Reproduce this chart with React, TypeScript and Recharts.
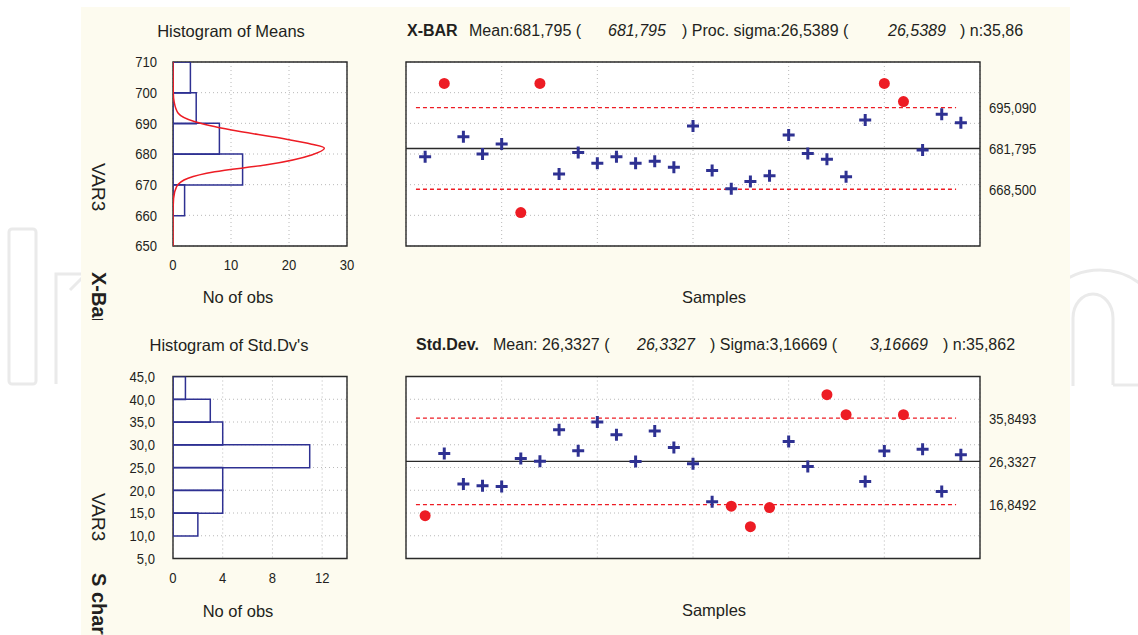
import React from 'react'
import {
  ComposedChart,
  ScatterChart,
  Bar,
  Line,
  Scatter,
  XAxis,
  YAxis,
  CartesianGrid,
  ReferenceLine,
  ReferenceArea,
} from 'recharts'

const FONT = "'Liberation Sans', Arial, Helvetica, sans-serif"
const INK = '#231f20'
const NAVY = '#2e3192'
const RED = '#ed1c24'
const BORDER = '#2a2a2a'
const GRID = '#b8b8b8'
const CREAM = '#fdfbef'

// ---- X-bar chart ----
const meanSamples = [
  679.1, 703.0, 685.6, 680.0, 683.3, 660.9, 703.0, 673.5, 680.5, 677.0,
  679.1, 677.0, 677.6, 675.7, 689.1, 674.6, 668.7, 671.0, 672.9, 686.2,
  680.2, 678.3, 672.6, 691.1, 703.0, 697.1, 681.3, 693.0, 690.2,
]
const meanLcl = 668.5
const meanCenter = 681.795
const meanUcl = 695.09
const meanLimitLabels = ['668,500', '681,795', '695,090']

// histogram of means (bin mid points, counts)
const meanBins = [655, 665, 675, 685, 695, 705]
const meanCounts = [0, 2, 12, 8, 4, 3]
// fitted curve
const curveVar = [650, 660, 665.5, 669.3, 672.1, 674.2, 676.4, 679.7, 681.9, 683.2, 685.1, 687.8, 690.5, 693.3, 697.0, 700, 710]
const curveObs = [0, 0, 0.1, 0.6, 2.6, 7.2, 15.9, 23.9, 26.1, 23.9, 18.7, 10.1, 3.8, 0.9, 0.2, 0.05, 0]

// ---- S chart ----
const sdSamples = [
  14.4, 28.1, 21.4, 21.0, 20.8, 27.0, 26.4, 33.3, 28.7, 35.0,
  32.2, 26.3, 33.0, 29.4, 25.8, 17.5, 16.5, 12.0, 16.2, 30.7,
  25.2, 41.0, 36.6, 21.9, 28.6, 36.6, 29.0, 19.7, 27.8,
]
const sdLcl = 16.8492
const sdCenter = 26.3327
const sdUcl = 35.8493
const sdLimitLabels = ['16,8492', '26,3327', '35,8493']

const sdBins = [7.5, 12.5, 17.5, 22.5, 27.5, 32.5, 37.5, 42.5]
const sdCounts = [0, 2, 4, 4, 11, 4, 3, 1]

// ---- axes ----
const sampleTicks = [1, 5, 10, 15, 20, 25]
const sampleTickLabels = ['1', '5', '11', '16', '21', '26']
const sampleGridTicks = [5, 10, 15, 20, 25]
const meanYTicks = [650, 660, 670, 680, 690, 700, 710]
const meanGridTicks = [660, 670, 680, 690, 700]
const sdYTicks = [5, 10, 15, 20, 25, 30, 35, 40, 45]
const sdGridTicks = [10, 15, 20, 25, 30, 35, 40]
const meanObsTicks = [0, 10, 20, 30]
const sdObsTicks = [0, 4, 8, 12]

const LIMIT_FROM = 0.52
const LIMIT_TO = 28.75

const range = (a: number, b: number, step: number) => {
  const out: number[] = []
  for (let v = a; v <= b + 1e-9; v += step) out.push(+v.toFixed(4))
  return out
}

function makeTick(anchor: 'start' | 'middle' | 'end', dx: number, dy: number, fmt: (v: any) => string) {
  return (props: any) => {
    const { x, y, payload } = props
    return (
      <text
        transform={`translate(${x + dx},${y + dy}) scale(0.87,1)`}
        textAnchor={anchor}
        fontSize={15}
        fontFamily={FONT}
        fill={INK}
      >
        {fmt(payload.value)}
      </text>
    )
  }
}

const noTick = () => <g />

function Marker(props: any) {
  const { cx, cy, payload } = props
  if (cx == null || cy == null) return null
  if (payload.out) return <circle cx={cx} cy={cy} r={5.5} fill={RED} />
  return <path d={`M${cx - 6},${cy}H${cx + 6}M${cx},${cy - 6}V${cy + 6}`} stroke={NAVY} strokeWidth={3} fill="none" />
}

interface HistProps {
  top: number
  plotTop: number
  plotBottom: number
  bins: number[]
  counts: number[]
  yDomain: [number, number]
  yTicks: number[]
  yFmt: (v: number) => string
  yLabelDx: number
  xDomain: [number, number]
  xTicks: number[]
  xMinor: number[]
  curveV?: number[]
  curveC?: number[]
}

const HIST_LEFT = 100
const HIST_W = 260
const HIST_PLOT_L = 173
const HIST_PLOT_R = 347

function Histogram(p: HistProps) {
  const height = p.plotBottom + 44 - p.top
  const margin = { top: p.plotTop - p.top, right: HIST_LEFT + HIST_W - HIST_PLOT_R, bottom: 14, left: HIST_PLOT_L - HIST_LEFT - 50 }
  const rows = p.bins.map((v, i) => ({ v, n: p.counts[i] }))
  const pos = { position: 'absolute' as const, left: HIST_LEFT, top: p.top }
  const curve = p.curveV ? p.curveV.map((v, i) => ({ v, c: p.curveC![i] })) : null
  const minorTick = { stroke: BORDER, strokeWidth: 1 }
  return (
    <>
      <div style={pos}>
        <ComposedChart width={HIST_W} height={height} data={rows} layout="vertical" margin={margin} barCategoryGap={0} barGap={0}>
          <CartesianGrid fill="#fff" stroke={GRID} strokeDasharray="1 3" />
          <XAxis type="number" domain={p.xDomain} ticks={p.xTicks} interval={0} allowDataOverflow height={30}
            tickSize={0} tickMargin={0} axisLine={false} tickLine={false} tick={makeTick('middle', 0, 24, String)} />
          <XAxis xAxisId="mb" type="number" domain={p.xDomain} ticks={p.xMinor} interval={0} allowDataOverflow mirror
            tick={false} tickSize={3} axisLine={false} tickLine={minorTick} />
          <XAxis xAxisId="mt" orientation="top" type="number" domain={p.xDomain} ticks={p.xMinor} interval={0} allowDataOverflow mirror
            tick={false} tickSize={3} axisLine={false} tickLine={minorTick} />
          <YAxis type="number" dataKey="v" reversed domain={p.yDomain} ticks={p.yTicks} interval={0} allowDataOverflow width={50}
            tickSize={0} tickMargin={0} axisLine={false} tickLine={false} tick={makeTick('end', p.yLabelDx, 5.4, p.yFmt)} />
          <YAxis yAxisId="ml" type="number" reversed domain={p.yDomain} ticks={p.yTicks} interval={0} allowDataOverflow mirror
            tick={false} tickSize={3} axisLine={false} tickLine={minorTick} />
          <YAxis yAxisId="mr" orientation="right" type="number" reversed domain={p.yDomain} ticks={p.yTicks} interval={0} allowDataOverflow mirror
            tick={false} tickSize={3} axisLine={false} tickLine={minorTick} />
          <Bar dataKey="n" fill="none" stroke={NAVY} strokeWidth={1.5} isAnimationActive={false} />
          <ReferenceArea x1={p.xDomain[0]} x2={p.xDomain[1]} y1={p.yDomain[0]} y2={p.yDomain[1]}
            fill="none" fillOpacity={0} stroke={BORDER} strokeWidth={1.4} ifOverflow="visible" />
        </ComposedChart>
      </div>
      {curve && (
        <div style={pos}>
          <ComposedChart width={HIST_W} height={height} data={curve} layout="vertical"
            margin={{ ...margin, left: margin.left + 50, bottom: margin.bottom + 30 }}>
            <XAxis type="number" hide domain={p.xDomain} allowDataOverflow />
            <YAxis type="number" dataKey="v" hide reversed domain={p.yDomain} allowDataOverflow />
            <Line dataKey="c" type="monotone" dot={false} stroke={RED} strokeWidth={1.5} isAnimationActive={false} />
          </ComposedChart>
        </div>
      )}
    </>
  )
}

interface CtrlProps {
  top: number
  plotTop: number
  plotBottom: number
  values: number[]
  lcl: number
  center: number
  ucl: number
  limitLabels: string[]
  yDomain: [number, number]
  gridTicks: number[]
}

const CTRL_LEFT = 380
const CTRL_W = 680

function ControlChart(p: CtrlProps) {
  const height = p.plotBottom + 44 - p.top
  const rows = p.values.map((v, i) => ({ s: i + 1, v, out: v > p.ucl || v < p.lcl }))
  const xDomain: [number, number] = [0, 30]
  const sampleMinor = range(1, p.values.length, 1)
  const sideMinor = range(p.yDomain[0], p.yDomain[1], 1)
  const limits = [p.lcl, p.center, p.ucl]
  const minorTick = { stroke: BORDER, strokeWidth: 1 }
  return (
    <div style={{ position: 'absolute', left: CTRL_LEFT, top: p.top }}>
      <ScatterChart width={CTRL_W} height={height} margin={{ top: p.plotTop - p.top, right: 20, bottom: 14, left: 26 }}>
        <CartesianGrid fill="#fff" stroke={GRID} strokeDasharray="1 3" />
        <XAxis type="number" dataKey="s" domain={xDomain} ticks={sampleGridTicks} interval={0} allowDataOverflow mirror
          tick={noTick} tickLine={false} axisLine={false} />
        <XAxis xAxisId="lab" type="number" domain={xDomain} ticks={sampleTicks} interval={0} allowDataOverflow height={30}
          tickSize={0} tickMargin={0} axisLine={false} tickLine={false}
          tick={makeTick('middle', 0, 24, (v) => sampleTickLabels[sampleTicks.indexOf(v)])} />
        <XAxis xAxisId="mb" type="number" domain={xDomain} ticks={sampleMinor} interval={0} allowDataOverflow mirror
          tick={false} tickSize={3} axisLine={false} tickLine={minorTick} />
        <XAxis xAxisId="mt" orientation="top" type="number" domain={xDomain} ticks={sampleMinor} interval={0} allowDataOverflow mirror
          tick={false} tickSize={3} axisLine={false} tickLine={minorTick} />
        <YAxis type="number" dataKey="v" domain={p.yDomain} ticks={p.gridTicks} interval={0} allowDataOverflow mirror
          tick={noTick} tickLine={false} axisLine={false} />
        <YAxis yAxisId="lab" orientation="right" type="number" domain={p.yDomain} ticks={limits} interval={0} allowDataOverflow width={60}
          tickSize={0} tickMargin={0} axisLine={false} tickLine={false}
          tick={makeTick('start', 9, 5.4, (v) => p.limitLabels[limits.indexOf(v)])} />
        <YAxis yAxisId="ml" type="number" domain={p.yDomain} ticks={sideMinor} interval={0} allowDataOverflow mirror
          tick={false} tickSize={2.5} axisLine={false} tickLine={minorTick} />
        <YAxis yAxisId="mr" orientation="right" type="number" domain={p.yDomain} ticks={sideMinor} interval={0} allowDataOverflow mirror
          tick={false} tickSize={2.5} axisLine={false} tickLine={minorTick} />
        <ReferenceLine y={p.center} stroke={BORDER} strokeWidth={1.3} />
        <ReferenceLine segment={[{ x: LIMIT_FROM, y: p.ucl }, { x: LIMIT_TO, y: p.ucl }]} stroke={RED} strokeWidth={1.3} strokeDasharray="4 3" />
        <ReferenceLine segment={[{ x: LIMIT_FROM, y: p.lcl }, { x: LIMIT_TO, y: p.lcl }]} stroke={RED} strokeWidth={1.3} strokeDasharray="4 3" />
        <ReferenceArea x1={xDomain[0]} x2={xDomain[1]} y1={p.yDomain[0]} y2={p.yDomain[1]}
          fill="none" fillOpacity={0} stroke={BORDER} strokeWidth={1.4} ifOverflow="visible" />
        <Scatter data={rows} shape={(props: any) => <Marker {...props} />} isAnimationActive={false} />
      </ScatterChart>
    </div>
  )
}

function Txt({ x, y, size = 16, bold, italic, center, children }: any) {
  return (
    <div
      style={{
        position: 'absolute',
        left: x,
        top: y - size / 2,
        fontSize: size,
        lineHeight: `${size}px`,
        fontWeight: bold ? 'bold' : 'normal',
        fontStyle: italic ? 'italic' : 'normal',
        transform: center ? 'translateX(-50%)' : undefined,
        whiteSpace: 'pre',
        color: INK,
      }}
    >
      {children}
    </div>
  )
}

function VTxt({ cx, top, size = 19, bold, children }: any) {
  return (
    <div
      style={{
        position: 'absolute',
        left: cx - size / 2,
        top,
        writingMode: 'vertical-rl',
        fontSize: size,
        lineHeight: `${size}px`,
        fontWeight: bold ? 'bold' : 'normal',
        whiteSpace: 'pre',
        color: INK,
      }}
    >
      {children}
    </div>
  )
}

const comma1 = (v: number) => v.toFixed(1).replace('.', ',')

export default function App() {
  return (
    <div style={{ position: 'absolute', left: 0, top: 0, width: 1138, height: 635, overflow: 'hidden', background: '#fff', fontFamily: FONT }}>
      <svg width={1138} height={635} style={{ position: 'absolute', left: 0, top: 0 }}>
        <g fill="none" stroke="#eaeaea" strokeWidth={3}>
          <rect x={9} y={229} width={27} height={155} rx={3} />
          <path d="M56 384 V274 H110" />
          <path d="M70 290 L83 277" />
          <path d="M1113 385 V318 A20 24 0 0 0 1073 318 V386" />
          <path d="M1035 386 V335 A65 65 0 0 1 1165 335" />
          <path d="M1113 385 H1140" />
        </g>
      </svg>
      <div style={{ position: 'absolute', left: 81, top: 7, width: 989, height: 640, background: CREAM }} />

      <Txt x={231} y={31} size={16.5} center>Histogram of Means</Txt>
      <Txt x={229} y={345} size={16.5} center>Histogram of Std.Dv's</Txt>
      <Txt x={238} y={297} size={16.5} center>No of obs</Txt>
      <Txt x={238} y={611} size={16.5} center>No of obs</Txt>
      <Txt x={714} y={297} size={16.5} center>Samples</Txt>
      <Txt x={714} y={610} size={16.5} center>Samples</Txt>

      <Txt x={407} y={31} bold>X-BAR</Txt>
      <Txt x={469} y={31}>Mean:681,795 (</Txt>
      <Txt x={608} y={31} italic>681,795</Txt>
      <Txt x={682} y={31}>) Proc. sigma:26,5389 (</Txt>
      <Txt x={888} y={31} italic>26,5389</Txt>
      <Txt x={960} y={31}>) n:35,86</Txt>

      <Txt x={416} y={345} bold>Std.Dev.</Txt>
      <Txt x={493} y={345}>Mean: 26,3327 (</Txt>
      <Txt x={637} y={345} italic>26,3327</Txt>
      <Txt x={710} y={345}>) Sigma:3,16669 (</Txt>
      <Txt x={870} y={345} italic>3,16669</Txt>
      <Txt x={943} y={345}>) n:35,862</Txt>

      <VTxt cx={98} top={163}>VAR3</VTxt>
      <VTxt cx={98} top={493}>VAR3</VTxt>
      <div style={{ position: 'absolute', left: 0, top: 0, width: 200, height: 320, overflow: 'hidden' }}>
        <VTxt cx={99} top={272} size={20} bold>X-Bar chart</VTxt>
      </div>
      <VTxt cx={99} top={573} size={20} bold>S chart</VTxt>

      <Histogram
        top={40}
        plotTop={62}
        plotBottom={246}
        bins={meanBins}
        counts={meanCounts}
        yDomain={[650, 710]}
        yTicks={meanYTicks}
        yFmt={String}
        yLabelDx={-16}
        xDomain={[0, 30]}
        xTicks={meanObsTicks}
        xMinor={range(0, 30, 2)}
        curveV={curveVar}
        curveC={curveObs}
      />
      <Histogram
        top={355}
        plotTop={376.5}
        plotBottom={558.5}
        bins={sdBins}
        counts={sdCounts}
        yDomain={[5, 45]}
        yTicks={sdYTicks}
        yFmt={comma1}
        yLabelDx={-18}
        xDomain={[0, 14]}
        xTicks={sdObsTicks}
        xMinor={range(0, 14, 1)}
      />
      <ControlChart
        top={40}
        plotTop={62}
        plotBottom={246}
        values={meanSamples}
        lcl={meanLcl}
        center={meanCenter}
        ucl={meanUcl}
        limitLabels={meanLimitLabels}
        yDomain={[650, 710]}
        gridTicks={meanGridTicks}
      />
      <ControlChart
        top={355}
        plotTop={376.5}
        plotBottom={558.5}
        values={sdSamples}
        lcl={sdLcl}
        center={sdCenter}
        ucl={sdUcl}
        limitLabels={sdLimitLabels}
        yDomain={[5, 45]}
        gridTicks={sdGridTicks}
      />
    </div>
  )
}
